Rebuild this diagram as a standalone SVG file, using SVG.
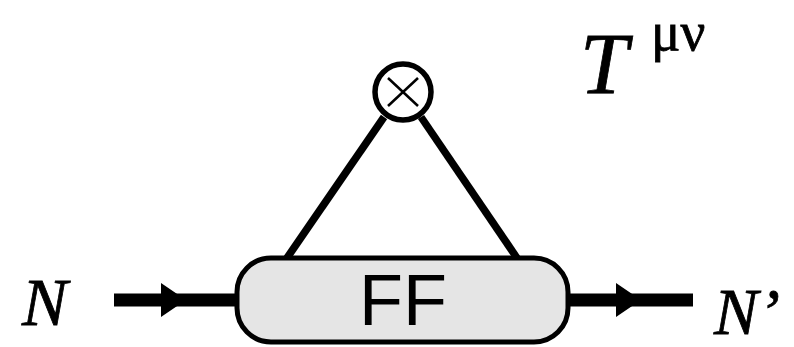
<svg xmlns="http://www.w3.org/2000/svg" width="794" height="347" viewBox="0 0 794 347">
<defs>
<style>
.ln{stroke:#000;stroke-width:7.5;fill:none;stroke-linecap:butt}
.thick{stroke:#000;stroke-width:13;fill:none}
.head{fill:#000}
.serif{font-family:'Liberation Serif','Times New Roman','DejaVu Serif',serif;fill:#000;stroke:#000;stroke-width:0.8}
.sans{font-family:'Liberation Sans',Arial,Helvetica,sans-serif;fill:#000}
</style>
</defs>
<rect width="794" height="347" fill="#fff"/>
<g id="connectors">
<line class="ln" x1="287" y1="258" x2="384" y2="117"/>
<line class="ln" x1="517" y1="258" x2="421" y2="117"/>
<line class="thick" x1="114" y1="300" x2="237" y2="300"/>
<polygon class="head" points="161,283 161,317 186,300"/>
<line class="thick" x1="567" y1="300" x2="693" y2="300"/>
<polygon class="head" points="616,283 616,317 641,300"/>
</g>
<g id="vertex">
<circle cx="403" cy="92" r="28" fill="#fff" stroke="#000" stroke-width="5.5"/>
<line x1="388" y1="78" x2="418" y2="106" stroke="#000" stroke-width="2.5"/>
<line x1="418" y1="78" x2="388" y2="106" stroke="#000" stroke-width="2.5"/>
</g>
<g id="ff">
<rect x="237" y="258" width="331" height="84" rx="34" ry="34" fill="#e5e5e5" stroke="#000" stroke-width="5"/>
<text class="sans" x="403" y="325" font-size="72" text-anchor="middle">FF</text>
</g>
<g id="labels">
<text class="serif" x="580" y="93" font-size="86" font-style="italic">T</text>
<text class="serif" x="651" y="50" font-size="55">μν</text>
<text class="serif" x="22" y="325" font-size="68" font-style="italic">N</text>
<text class="serif" x="714" y="334" font-size="66" font-style="italic">N’</text>
</g>
</svg>
